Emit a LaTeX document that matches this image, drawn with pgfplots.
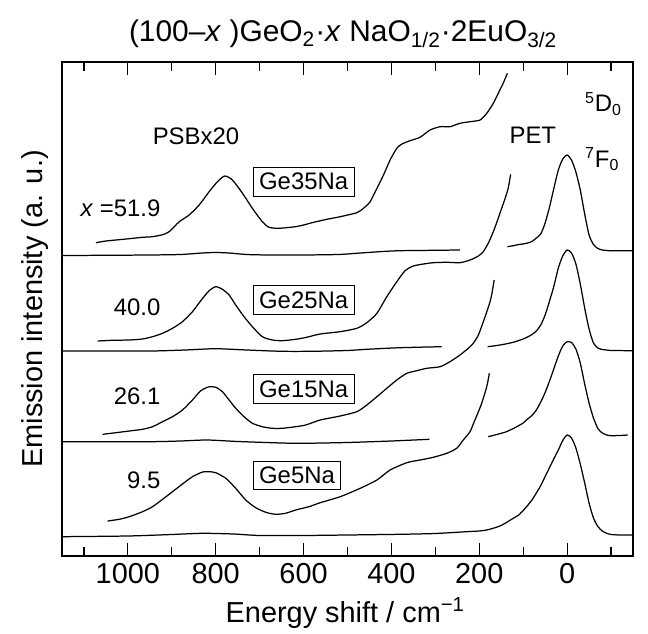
\documentclass[border=0pt]{standalone}
\usepackage{fontspec}
\setmainfont{Liberation Sans}
\usepackage{pgfplots}
\pgfplotsset{compat=1.18}
\begin{document}
\begin{tikzpicture}
\begin{axis}[
  at={(0,0)}, anchor=south west,
  scale only axis, width=285.5bp, height=247bp,
  x dir=reverse, xmin=-150, xmax=1150, ymin=0, ymax=494,
  ytick=\empty,
  xtick={0,200,400,600,800,1000},
  xticklabels={0,200,400,600,800,1000},
  minor xtick={-100,100,300,500,700,900,1100},
  tick align=inside,
  major tick length=6.5bp, minor tick length=4.5bp,
  tick style={line width=0.6bp, black},
  axis line style={line width=0.75bp},
  xticklabel style={font=\fontsize{14.5}{17}\selectfont},
  clip=false,
  every axis plot/.append style={black, line width=0.62bp, line join=round},
]
% ---------- spectrum 1 (Ge35Na) ----------
\addplot[smooth, tension=0.4] coordinates {(1150,300.5)(1050,300.7)(950,301)(880,301.5)(830,303)(800,303.5)(770,303)(730,301.5)(680,301)(600,301)(520,301.5)(480,302.7)(420,304.5)(380,305.3)(300,305.7)(244,306)};
\addplot[smooth, tension=0.4] coordinates {(136,309.3)(120,310.5)(110,311.5)(100,312)(90,313)(80,314.5)(70,318)(60,322)(50,333)(40,349)(30,368)(20,386)(10,397)(0,401)(-10,396)(-20,384)(-30,366)(-40,342)(-50,321)(-60,311.5)(-70,307.5)(-80,306)(-90,305.5)(-100,305.3)(-150,305.3)};
\addplot[smooth, tension=0.4] coordinates {(1072.7,313.3)(1050,315)(1027,316)(997,317.3)(966.6,318.7)(943.9,319.3)(921,321.3)(906,324.3)(883,334.3)(860.5,341)(837.7,351)(815,364.3)(796,374.3)(779.5,380)(762,376)(739,362.7)(716.6,347.7)(693.9,334.3)(678.6,328.7)(656,327.7)(618,329.3)(600,331)(577,333.7)(547,336.7)(516.6,339.3)(478.6,343.3)(463.6,347.7)(448.4,354.3)(433,367.7)(418,381)(403,396)(387.7,407.7)(376,412)(357.5,415.3)(334.8,418.7)(312,426)(289,429.3)(266.6,429.3)(243.9,432.7)(221,434.3)(198,436)(183,442.7)(168,452.7)(153,466)(145.5,472.7)(136,482.7)};
% ---------- spectrum 2 (Ge25Na) ----------
\addplot[smooth, tension=0.4] coordinates {(1150,205)(950,205)(870,206)(800,207.3)(730,206)(650,204.7)(580,204.7)(500,205.5)(456,206.7)(380,208.3)(285.5,209.3)};
\addplot[smooth, tension=0.4] coordinates {(181,209.3)(160,210.5)(140,212)(120,214)(110,215.5)(100,217)(90,219)(80,221.5)(70,225)(60,231)(50,241)(40,255)(30,270)(20,288)(10,300)(0,306)(-10,303)(-20,292)(-30,272)(-40,248)(-50,227)(-60,213)(-70,208)(-80,206.5)(-90,206)(-100,205.5)(-150,205.3)};
\addplot[smooth, tension=0.4] coordinates {(1068.9,215)(1034.8,215.7)(996.8,216)(966.6,217)(943.9,219.3)(921,222.7)(898.4,227.7)(875.7,234.3)(853,244.3)(834,255.3)(815,265.3)(800,269.3)(784.8,266.7)(769.5,261)(754.5,251)(735.5,239.3)(716.6,229.3)(693.9,219.3)(671,216)(648.4,215.3)(618,216.7)(595,218.5)(562,222)(516.6,224.3)(478.6,227.7)(456,233.3)(433,242.7)(410.5,259.3)(387.7,274.3)(368.9,285.3)(350,290)(327,292)(304.5,293.3)(274,293.7)(243.9,293.3)(221,296)(202,300)(191,304.3)(179.5,312.7)(168,324.3)(156.8,337.7)(149,347.7)(141.6,357)(134,368)(128.6,381.7)};
% ---------- spectrum 3 (Ge15Na) ----------
\addplot[smooth, tension=0.4] coordinates {(1150,114.3)(950,114.3)(880,115)(820,116)(750,114.5)(650,113)(600,112.7)(500,113.5)(400,115)(313.6,116.7)};
\addplot[smooth, tension=0.4] coordinates {(179.5,119.3)(160,121.5)(140,124)(120,128)(100,133)(90,137)(80,140.5)(70,146)(60,154)(50,163.5)(40,175)(30,187.5)(20,200)(10,210)(0,214.3)(-10,213.5)(-20,207)(-30,193)(-40,172)(-50,153)(-60,138)(-70,127.5)(-80,123)(-90,121)(-100,120.3)(-120,120.5)(-138,121)};
\addplot[smooth, tension=0.4] coordinates {(1057.5,121.7)(1027,123.3)(996.8,125)(966.6,126.7)(943.9,129.3)(921,134.3)(898.4,139.3)(875.7,146)(853,156)(834,165.3)(815,169.3)(800,168.7)(784.8,164.3)(769.5,156)(754.5,147.7)(735.5,139.3)(716.6,132.7)(693.9,129.3)(671,127.7)(648.4,127.7)(618,129.3)(595,131)(562,136)(516.6,140)(478.6,144.3)(456,151)(433,159.3)(410.5,167.7)(387.7,176)(365,182.7)(342.3,185.3)(319.5,187.7)(289.3,189.3)(266.6,194.3)(243.9,201)(225,207.7)(213.6,212.7)(202,221)(191,234)(183,244)(175,255)(171,263)(166,276)};
% ---------- spectrum 4 (Ge5Na) ----------
\addplot[smooth, tension=0.4] coordinates {(1150,19.3)(1000,20)(900,21.5)(830,22.7)(760,22)(700,20.5)(600,20.5)(500,21)(380,21.7)(300,22.5)(228.7,24.3)(200,25)(183,26)(170,27.5)(153,30)(140,33)(122.7,37.7)(110,41)(100,45.5)(90,50.5)(80,56)(70,63)(60,70.5)(50,79.5)(40,88.5)(30,97.5)(20,106)(10,115.5)(0,121)(-10,118)(-20,108)(-30,92)(-40,73)(-50,53)(-60,38)(-70,29.5)(-80,25)(-90,22.7)(-100,21.5)(-120,21)(-150,21)};
\addplot[smooth, tension=0.4] coordinates {(1046,35)(1019.5,36.7)(996.8,39.3)(966.6,44.3)(943.9,49.3)(921,56.7)(898.4,64.3)(875.7,72)(853,79.3)(830,84)(815,84.3)(800,83.3)(777,77.7)(754.5,67.7)(731.8,56)(709,48.3)(686,43.7)(663.6,41.7)(641,42.7)(618,46)(587.7,49.3)(562,53.3)(516.6,59.3)(471,67.7)(433,76)(403,86)(365,93.3)(334.8,96)(304.5,98.7)(274,102.7)(251.4,107.7)(236.4,116)(221,124.3)(213,132.7)(205,141)(194.5,152.7)(183,169.3)(177,182.7)};
% ---------- in-plot labels ----------
\begin{scope}[every node/.style={font=\fontsize{12}{14}\selectfont}]
\node[anchor=base] at (axis cs:845,411.5) {PSBx20};
\node[anchor=base] at (axis cs:78,412) {PET};
\node[anchor=base west, inner sep=0pt] at (axis cs:-40,444) {\textsuperscript{5}D\textsubscript{0}};
\node[anchor=base west, inner sep=0pt] at (axis cs:-40,388.7) {\textsuperscript{7}F\textsubscript{0}};
\node[anchor=base east, inner sep=0pt] at (axis cs:925,339.3) {\textit{x} =51.9};
\node[anchor=base east, inner sep=0pt] at (axis cs:925,240.3) {40.0};
\node[anchor=base east, inner sep=0pt] at (axis cs:925,151) {26.1};
\node[anchor=base east, inner sep=0pt] at (axis cs:925,67) {9.5};
\node[draw, line width=0.5bp, inner sep=3bp, anchor=west] at (axis cs:716,374.3) {Ge35Na};
\node[draw, line width=0.5bp, inner sep=3bp, anchor=west] at (axis cs:716,256) {Ge25Na};
\node[draw, line width=0.5bp, inner sep=3bp, anchor=west] at (axis cs:716,167) {Ge15Na};
\node[draw, line width=0.5bp, inner sep=3bp, anchor=west] at (axis cs:716,80.5) {Ge5Na};
\end{scope}
% ---------- axis texts ----------
\node[anchor=base, inner sep=0pt, font=\fontsize{15}{18}\selectfont] at (axis cs:509.8,514) {(100–\textit{x} )GeO\textsubscript{2}·\textit{x} NaO\textsubscript{1/2}·2EuO\textsubscript{3/2}};
\node[anchor=base, inner sep=0pt, font=\fontsize{14.5}{17}\selectfont] at (axis cs:505,-66) {Energy shift / cm\textsuperscript{−1}};
\node[anchor=base, rotate=90, inner sep=0pt, font=\fontsize{14.5}{17}\selectfont] at (axis cs:1193.9,247) {Emission intensity (a. u.)};
\end{axis}
\pgfresetboundingbox
\useasboundingbox (-31bp,-39bp) rectangle (293bp,278bp);
\end{tikzpicture}
\end{document}
